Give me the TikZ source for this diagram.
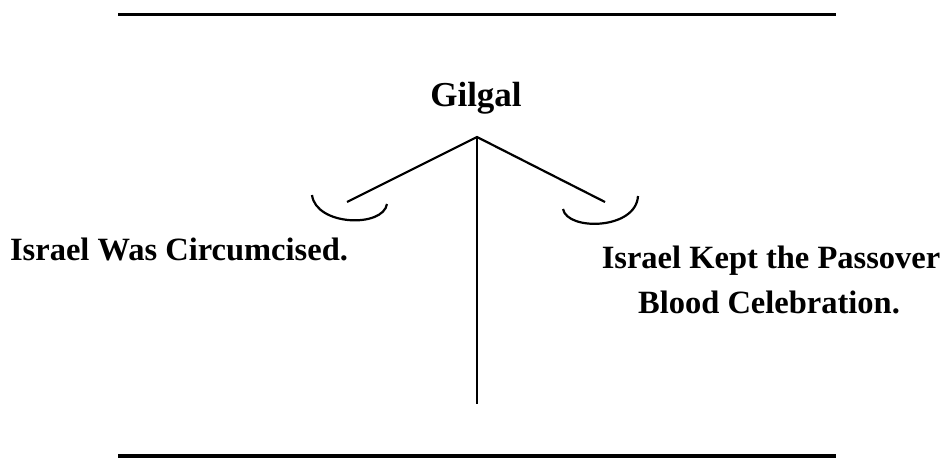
\documentclass[tikz,border=0pt]{standalone}
\usepackage{fontspec}
\setmainfont{Liberation Serif}
\begin{document}
\begin{tikzpicture}[x=1pt,y=-1pt,
  rule/.style={line width=3.5pt},
  arm/.style={line width=2.2pt},
  label/.style={font=\bfseries\fontsize{32.5}{36}\selectfont, inner sep=0pt, align=center},
  title/.style={font=\bfseries\fontsize{35}{38}\selectfont, inner sep=0pt}]
\useasboundingbox (0,0) rectangle (947,458);
\draw[rule] (118,14.5) coordinate (t1) -- (836,14.5) coordinate (t2);
\draw[rule] (118,456) coordinate (b1) -- (836,456) coordinate (b2);
\node[title, anchor=base] (gilgal) at (476,106) {Gilgal};
\coordinate (apex) at (477,137);
\coordinate (foot) at (477,404);
\coordinate (lend) at (347,202);
\coordinate (rend) at (605,202);
\draw[arm] (apex) -- (foot);
\draw[arm] (lend) -- (apex) -- (rend);
\draw[arm] (312,195) coordinate (la) .. controls (316,226) and (383,228) .. (387,204) coordinate (lb);
\draw[arm] (563,209) coordinate (ra) .. controls (567,231) and (636,230) .. (638,196) coordinate (rb);
\node[label, anchor=base] (left) at (179,260) {Israel Was Circumcised.};
\node[label, anchor=base] (right1) at (771,268) {Israel Kept the Passover};
\node[label, anchor=base] (right2) at (769,313) {Blood Celebration.};
\end{tikzpicture}
\end{document}
